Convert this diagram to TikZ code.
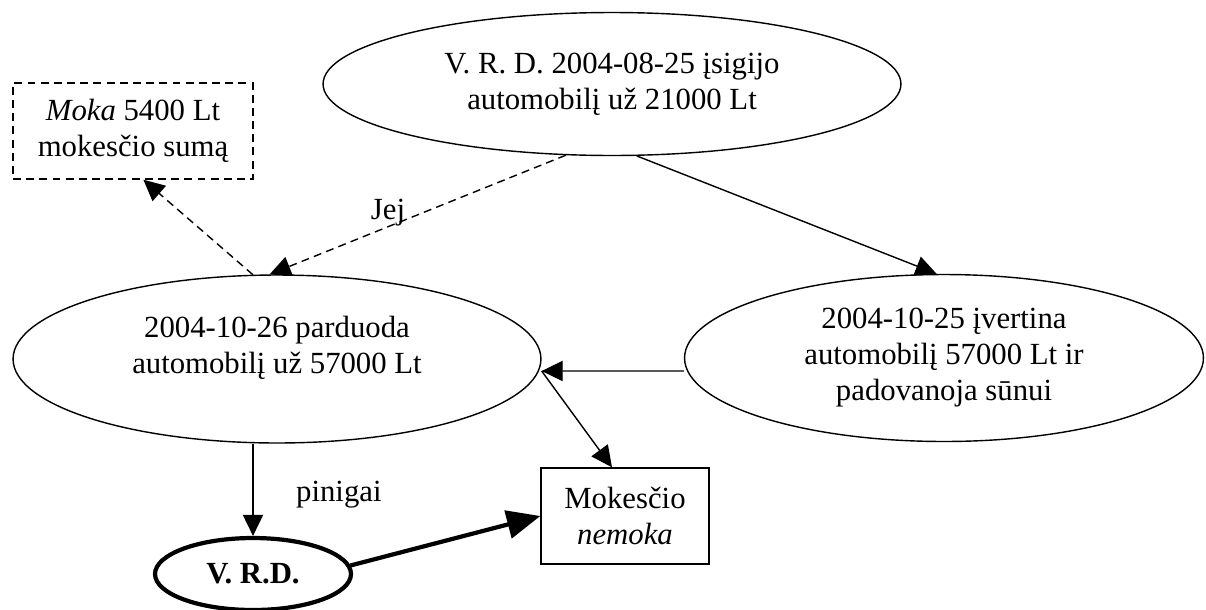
\documentclass[tikz,border=0pt]{standalone}
\usepackage{fontspec}
\setmainfont{Liberation Serif}
\usetikzlibrary{shapes.geometric,arrows.meta}

\begin{document}
\begin{tikzpicture}[x=0.02cm, y=-0.02cm,
    every node/.style={font=\fontsize{17.5}{20.5}\selectfont, align=center},
    oval/.style={draw, ellipse, line width=0.8pt, inner sep=0pt},
    boxnode/.style={draw, rectangle, line width=0.8pt, inner sep=0pt},
    dashline/.style={dash pattern=on 4.5pt off 3pt},
    arr/.style={-{Triangle[length=12pt,width=11.5pt]}, line width=0.8pt},
    thickarr/.style={-{Triangle[length=19pt,width=16pt]}, line width=2.4pt}]
    \useasboundingbox (0,0) rectangle (1206,609);

    \node[oval, minimum width=11.56cm, minimum height=2.86cm] (buy) at (612,84) {V. R. D. 2004-08-25 įsigijo\\automobilį už 21000 Lt};
    \node[oval, minimum width=10.56cm, minimum height=3.36cm, label={[yshift=0.22cm]center:2004-10-26 parduoda\\automobilį už 57000 Lt}] (sell) at (277,359) {};
    \node[oval, minimum width=10.38cm, minimum height=3.34cm] (gift) at (944,358) {2004-10-25 įvertina\\automobilį 57000 Lt ir\\padovanoja sūnui};
    \node[boxnode, dashline, minimum width=4.8cm, minimum height=1.92cm] (pay) at (133,131) {\textit{Moka} 5400 Lt\\mokesčio sumą};
    \node[boxnode, minimum width=3.36cm, minimum height=1.92cm] (notax) at (625,516) {Mokesčio\\\textit{nemoka}};
    \node[oval, line width=2.4pt, minimum width=3.92cm, minimum height=1.44cm, font=\fontsize{17.5}{20.5}\selectfont\bfseries] (vrd) at (253,574) {V. R.D.};

    \coordinate (se) at ([yshift=-0.24cm]sell.east);

    \draw[arr, dashline] (buy.237) -- node[pos=0.6, above, inner sep=0pt] {Jej} (sell.95);
    \draw[arr, dashline] (sell.106) -- (pay.282);
    \draw[arr] (buy.289) -- (gift.95);
    \draw[arr] ([yshift=-0.26cm]gift.west) -- (se);
    \draw[arr] (se) -- ([xshift=-0.26cm]notax.north);
    \draw[arr] (vrd.north |- sell.south) -- node[pos=0.55, right=0.85cm, inner sep=0pt] {pinigai} (vrd.north);
    \draw[thickarr] (vrd.5) -- (notax.west);
\end{tikzpicture}
\end{document}
